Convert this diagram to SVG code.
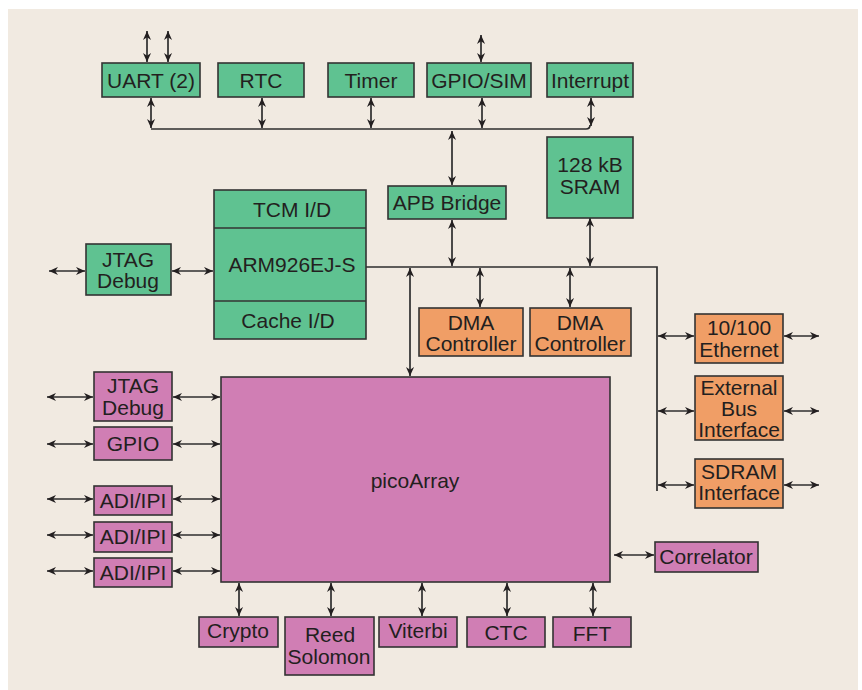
<svg xmlns="http://www.w3.org/2000/svg" width="862" height="690" viewBox="0 0 862 690">
<defs>
<style>
.g{fill:#5FC291;stroke:#333;stroke-width:1.6}
.o{fill:#F09E66;stroke:#333;stroke-width:1.6}
.p{fill:#D07EB4;stroke:#333;stroke-width:1.6}
text{font-family:"Liberation Sans",Arial,sans-serif;font-size:21px;fill:#231F20;text-anchor:middle}
.c line,.c path{stroke:#2e2e2e;stroke-width:1.7;fill:none}
.a{marker-start:url(#ah);marker-end:url(#ah)}
</style>
<marker id="ah" viewBox="0 0 10 10" refX="10" refY="5" markerWidth="9" markerHeight="9" markerUnits="userSpaceOnUse" orient="auto-start-reverse">
<path d="M0,0.5 L10,5 L0,9.5 L3,5 z" fill="#231F20"/>
</marker>
</defs>
<rect x="8" y="9" width="850" height="681" fill="#F1EAE1"/>

<g class="c" id="connectors">
<line class="a" x1="147" y1="31" x2="147" y2="62"/>
<line class="a" x1="168" y1="31" x2="168" y2="62"/>
<line class="a" x1="481" y1="35" x2="481" y2="62"/>
<path d="M151,129 H586 Q590,129 590,125"/>
<line class="a" x1="151" y1="98" x2="151" y2="128"/>
<line class="a" x1="262" y1="98" x2="262" y2="128"/>
<line class="a" x1="371" y1="98" x2="371" y2="128"/>
<line class="a" x1="482" y1="98" x2="482" y2="128"/>
<line class="a" x1="591" y1="98" x2="591" y2="126"/>
<line class="a" x1="452" y1="131" x2="452" y2="185"/>
<path d="M366,267 H657 V491"/>
<line class="a" x1="452" y1="220" x2="452" y2="266"/>
<line class="a" x1="590" y1="218" x2="590" y2="266"/>
<line class="a" x1="480" y1="268" x2="480" y2="307"/>
<line class="a" x1="570" y1="268" x2="570" y2="307"/>
<line class="a" x1="410" y1="268" x2="410" y2="376"/>
<line class="a" x1="49" y1="271" x2="85" y2="271"/>
<line class="a" x1="172" y1="271" x2="213" y2="271"/>
<line class="a" x1="658" y1="336" x2="694" y2="336"/>
<line class="a" x1="784" y1="336" x2="819" y2="336"/>
<line class="a" x1="658" y1="411" x2="694" y2="411"/>
<line class="a" x1="784" y1="411" x2="819" y2="411"/>
<line class="a" x1="658" y1="485" x2="694" y2="485"/>
<line class="a" x1="784" y1="485" x2="819" y2="485"/>
<line class="a" x1="47" y1="397" x2="93" y2="397"/>
<line class="a" x1="173" y1="397" x2="220" y2="397"/>
<line class="a" x1="47" y1="444" x2="93" y2="444"/>
<line class="a" x1="173" y1="444" x2="220" y2="444"/>
<line class="a" x1="47" y1="499" x2="93" y2="499"/>
<line class="a" x1="173" y1="499" x2="220" y2="499"/>
<line class="a" x1="47" y1="535" x2="93" y2="535"/>
<line class="a" x1="173" y1="535" x2="220" y2="535"/>
<line class="a" x1="47" y1="571" x2="93" y2="571"/>
<line class="a" x1="173" y1="571" x2="220" y2="571"/>
<line class="a" x1="614" y1="555" x2="654" y2="555"/>
<line class="a" x1="239" y1="583" x2="239" y2="616"/>
<line class="a" x1="331" y1="583" x2="331" y2="616"/>
<line class="a" x1="422" y1="583" x2="422" y2="616"/>
<line class="a" x1="507" y1="583" x2="507" y2="616"/>
<line class="a" x1="593" y1="583" x2="593" y2="616"/>
</g>

<g id="uart"><rect class="g" x="102" y="63" width="98" height="34"/><text x="151" y="88">UART (2)</text></g>
<g id="rtc"><rect class="g" x="218" y="63" width="86" height="34"/><text x="261" y="88">RTC</text></g>
<g id="timer"><rect class="g" x="328" y="63" width="86" height="34"/><text x="371" y="88">Timer</text></g>
<g id="gpiosim"><rect class="g" x="427" y="63" width="104" height="34"/><text x="479" y="88">GPIO/SIM</text></g>
<g id="interrupt"><rect class="g" x="547" y="63" width="86" height="34"/><text x="590" y="88">Interrupt</text></g>
<g id="apb"><rect class="g" x="388" y="186" width="118" height="33"/><text x="447" y="210">APB Bridge</text></g>
<g id="sram"><rect class="g" x="547" y="137" width="86" height="81"/><text x="590" y="172">128 kB</text><text x="590" y="194">SRAM</text></g>
<g id="arm">
<rect class="g" x="214" y="190" width="152" height="149"/>
<line x1="214" y1="228" x2="366" y2="228" stroke="#333" stroke-width="1.6"/>
<line x1="214" y1="301" x2="366" y2="301" stroke="#333" stroke-width="1.6"/>
<text x="292" y="217">TCM I/D</text>
<text x="292" y="272">ARM926EJ-S</text>
<text x="288" y="328">Cache I/D</text>
</g>
<g id="jtag1"><rect class="g" x="86" y="244" width="85" height="51"/><text x="128" y="267">JTAG</text><text x="128" y="288">Debug</text></g>
<g id="dma1"><rect class="o" x="419" y="308" width="104" height="48"/><text x="471" y="330">DMA</text><text x="471" y="351">Controller</text></g>
<g id="dma2"><rect class="o" x="530" y="308" width="101" height="48"/><text x="580" y="330">DMA</text><text x="580" y="351">Controller</text></g>
<g id="ethernet"><rect class="o" x="695" y="314" width="88" height="49"/><text x="739" y="335">10/100</text><text x="739" y="357">Ethernet</text></g>
<g id="extbus"><rect class="o" x="695" y="376" width="88" height="64"/><text x="739" y="395">External</text><text x="739" y="416">Bus</text><text x="739" y="437">Interface</text></g>
<g id="sdram"><rect class="o" x="695" y="459" width="88" height="49"/><text x="739" y="479">SDRAM</text><text x="739" y="500">Interface</text></g>
<g id="pico"><rect class="p" x="221" y="377" width="389" height="205"/><text x="415" y="488">picoArray</text></g>
<g id="jtag2"><rect class="p" x="94" y="372" width="78" height="49"/><text x="133" y="393">JTAG</text><text x="133" y="415">Debug</text></g>
<g id="gpio"><rect class="p" x="94" y="427" width="78" height="33"/><text x="133" y="451">GPIO</text></g>
<g id="adi1"><rect class="p" x="94" y="486" width="78" height="29"/><text x="133" y="508">ADI/IPI</text></g>
<g id="adi2"><rect class="p" x="94" y="522" width="78" height="30"/><text x="133" y="544">ADI/IPI</text></g>
<g id="adi3"><rect class="p" x="94" y="558" width="78" height="29"/><text x="133" y="580">ADI/IPI</text></g>
<g id="correlator"><rect class="p" x="655" y="542" width="103" height="30"/><text x="706" y="564">Correlator</text></g>
<g id="crypto"><rect class="p" x="199" y="617" width="79" height="30"/><text x="238" y="638">Crypto</text></g>
<g id="reed"><rect class="p" x="285" y="617" width="89" height="58"/><text x="330" y="642">Reed</text><text x="329" y="664">Solomon</text></g>
<g id="viterbi"><rect class="p" x="379" y="617" width="78" height="30"/><text x="418" y="638">Viterbi</text></g>
<g id="ctc"><rect class="p" x="467" y="617" width="78" height="30"/><text x="506" y="640">CTC</text></g>
<g id="fft"><rect class="p" x="553" y="617" width="78" height="30"/><text x="592" y="641">FFT</text></g>
</svg>
